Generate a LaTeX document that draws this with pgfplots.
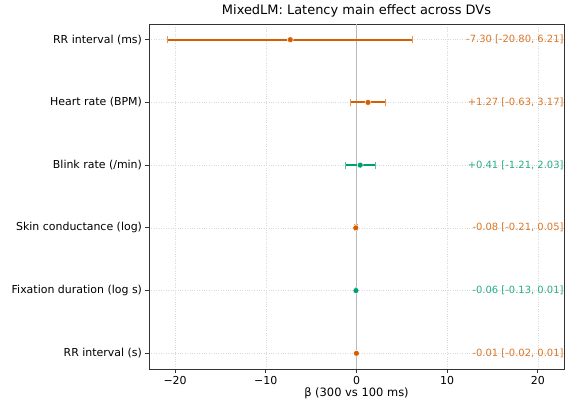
\documentclass[border=0pt]{standalone}
\usepackage{pgfplots}
\pgfplotsset{compat=1.18}
\usepackage{fontspec}
\setmainfont{DejaVu Sans}
\definecolor{orangeci}{RGB}{213,94,0}
\definecolor{greenci}{RGB}{0,158,115}
\definecolor{frame}{RGB}{51,51,51}
\begin{document}
\begin{tikzpicture}
\begin{axis}[
    scale only axis,
    width=415bp, height=345bp,
    xmin=-22.88, xmax=22.88,
    ymin=-0.25, ymax=5.25,
    axis line style={frame, line width=0.8pt},
    tick style={frame, line width=0.8pt},
    major tick length=3.5bp,
    tick align=outside,
    xtick pos=bottom, ytick pos=left,
    xtick={-20,-10,0,10,20},
    xticklabels={−20,−10,0,10,20},
    ytick={0,1,2,3,4,5},
    yticklabels={RR interval (s), Fixation duration (log s), Skin conductance (log), Blink rate (/min), Heart rate (BPM), RR interval (ms)},
    ticklabel style={font=\fontsize{11}{13}\selectfont, text=black},
    grid=major,
    major grid style={dotted, gray!30, line width=0.5pt},
    title={MixedLM: Latency main effect across DVs},
    title style={font=\fontsize{13}{15}\selectfont, yshift=-3bp},
    xlabel={β (300 vs 100 ms)},
    xlabel style={font=\fontsize{11.5}{13}\selectfont, yshift=3bp},
    clip=false,
]
\addplot[gray!55, line width=1.4pt] coordinates {(0,-0.25) (0,5.25)};
% confidence intervals
\addplot[draw=orangeci, line width=2pt, mark=|, mark size=3.5bp,
    mark options={draw=orangeci!65, line width=0.8pt}] coordinates {(-20.80,5) (6.21,5)};
\addplot[draw=orangeci, line width=2pt, mark=|, mark size=3.5bp,
    mark options={draw=orangeci!65, line width=0.8pt}] coordinates {(-0.63,4) (3.17,4)};
\addplot[draw=greenci, line width=2pt, mark=|, mark size=3.5bp,
    mark options={draw=greenci!65, line width=0.8pt}] coordinates {(-1.21,3) (2.03,3)};
\addplot[draw=orangeci, line width=2pt, mark=|, mark size=3.5bp,
    mark options={draw=orangeci!65, line width=0.8pt}] coordinates {(-0.21,2) (0.05,2)};
\addplot[draw=greenci, line width=2pt, mark=|, mark size=3.5bp,
    mark options={draw=greenci!65, line width=0.8pt}] coordinates {(-0.13,1) (0.01,1)};
\addplot[draw=orangeci, line width=2pt, mark=|, mark size=3.5bp,
    mark options={draw=orangeci!65, line width=0.8pt}] coordinates {(-0.02,0) (0.01,0)};
% estimates
\addplot[only marks, mark=*, mark size=3bp,
    mark options={fill=orangeci, draw=white, line width=0.5pt}]
    coordinates {(-7.30,5) (1.27,4) (-0.08,2) (-0.01,0)};
\addplot[only marks, mark=*, mark size=3bp,
    mark options={fill=greenci, draw=white, line width=0.5pt}]
    coordinates {(0.41,3) (-0.06,1)};
\tikzset{ann/.style={anchor=east, inner sep=0pt, font=\fontsize{10}{12}\selectfont}}
\node[ann, text=orangeci!85] at (axis cs:22.85,5) {-7.30 [-20.80, 6.21]};
\node[ann, text=orangeci!85] at (axis cs:22.85,4) {+1.27 [-0.63, 3.17]};
\node[ann, text=greenci!85] at (axis cs:22.85,3) {+0.41 [-1.21, 2.03]};
\node[ann, text=orangeci!85] at (axis cs:22.85,2) {-0.08 [-0.21, 0.05]};
\node[ann, text=greenci!85] at (axis cs:22.85,1) {-0.06 [-0.13, 0.01]};
\node[ann, text=orangeci!85] at (axis cs:22.85,0) {-0.01 [-0.02, 0.01]};
\end{axis}
\path (current axis.south west) ++(-149bp,-39bp) coordinate (bl);
\path (current axis.north east) ++(4bp,24bp) coordinate (tr);
\path (bl) rectangle (tr);
\end{tikzpicture}
\end{document}
